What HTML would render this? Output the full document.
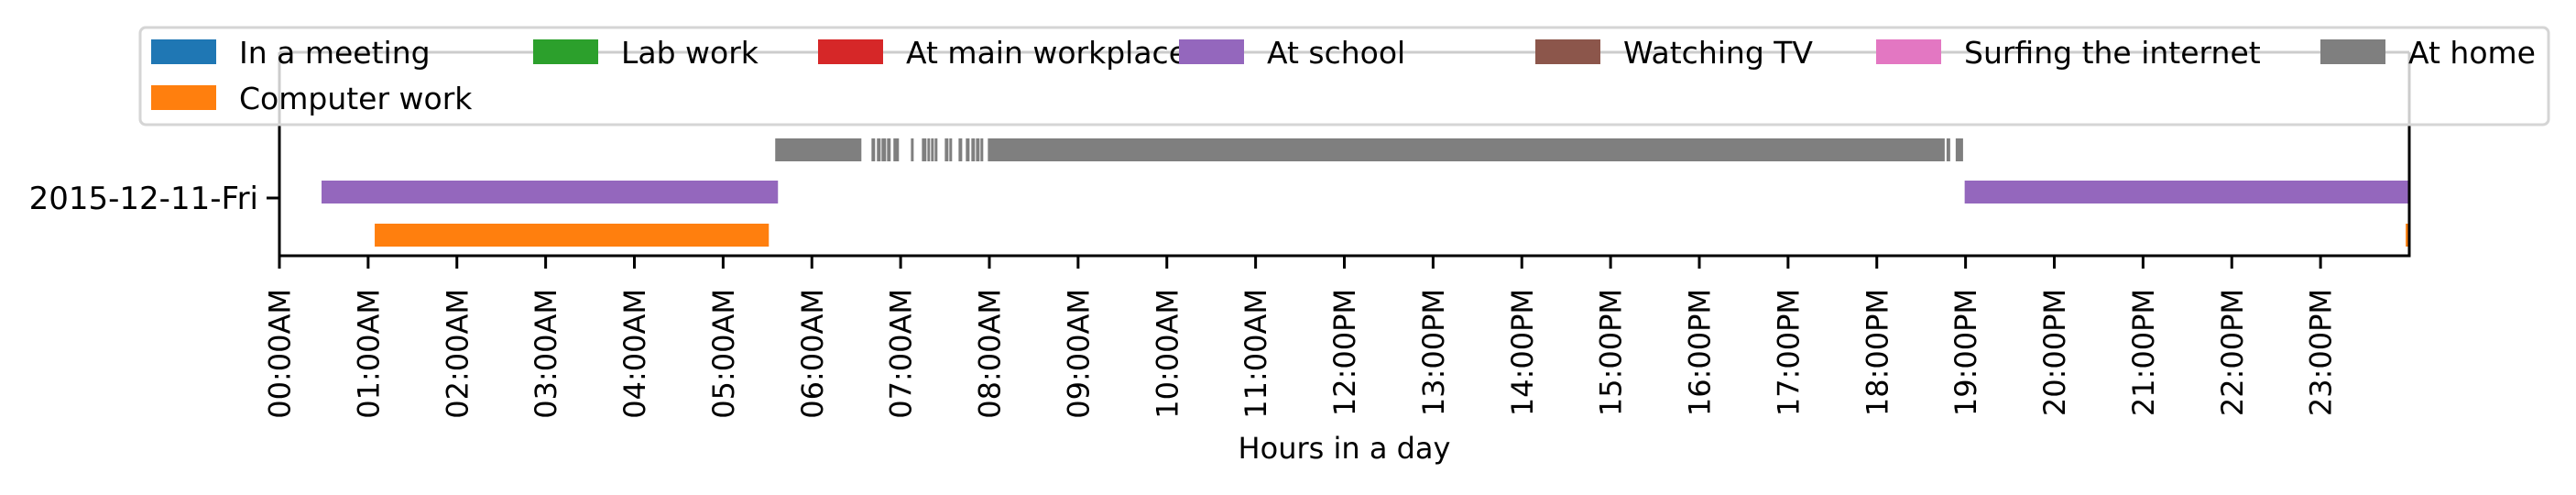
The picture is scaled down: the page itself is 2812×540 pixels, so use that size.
<!DOCTYPE html>
<html><head><meta charset="utf-8"><style>
html,body{margin:0;padding:0;background:#fff;}
svg{display:block;font-family:"DejaVu Sans","Liberation Sans",sans-serif;}
</style></head>
<body>
<svg id="chart" width="2812" height="540" viewBox="0 0 2812 540" xmlns="http://www.w3.org/2000/svg">
<g id="marks"></g>
<g id="axes"></g>
<g id="legend"></g>
</svg>
<script>
// ---- data (hours in the day) ----
const categories = ["At home", "At school", "Computer work"];
const homeStarts = [5.587,6.672,6.733,6.785,6.847,6.919,7.116,7.240,7.302,7.343,7.384,7.498,7.549,7.653,7.735,7.797,7.849,7.900,7.983,18.786,18.889];
const homeEnds   = [6.558,6.713,6.775,6.837,6.888,6.981,7.147,7.291,7.332,7.374,7.415,7.539,7.580,7.694,7.777,7.838,7.890,7.931,18.765,18.827,18.972];
const schoolStarts = [0.475, 18.99];
const schoolEnds   = [5.618, 24.0];
const computerStarts = [1.074, 23.96];
const computerEnds   = [5.515, 24.0];
const tickHours = [0,1,2,3,4,5,6,7,8,9,10,11,12,13,14,15,16,17,18,19,20,21,22,23];
const tickLabels = ["00:00AM","01:00AM","02:00AM","03:00AM","04:00AM","05:00AM","06:00AM","07:00AM","08:00AM","09:00AM","10:00AM","11:00AM","12:00PM","13:00PM","14:00PM","15:00PM","16:00PM","17:00PM","18:00PM","19:00PM","20:00PM","21:00PM","22:00PM","23:00PM"];
const legendLabels = ["In a meeting","Lab work","At main workplace","At school","Watching TV","Surfing the internet","At home","Computer work"];
const legendColors = ["#1f77b4","#2ca02c","#d62728","#9467bd","#8c564b","#e377c2","#7f7f7f","#ff7f0e"];
const dayLabel = "2015-12-11-Fri";

// ---- layout ----
const NS="http://www.w3.org/2000/svg";
const L=305,R=2630,T=57,B=279;
const x=h=>L+(h/24)*(R-L);
const rowY={"At home":151,"At school":197,"Computer work":244};
const barH=25;
function el(tag,attrs,parent){const e=document.createElementNS(NS,tag);for(const k in attrs)e.setAttribute(k,attrs[k]);parent.appendChild(e);return e;}
const marks=document.getElementById('marks'),axes=document.getElementById('axes'),legend=document.getElementById('legend');

function drawSeries(starts,ends,cat,color,name){
  for(let i=0;i<starts.length;i++){
    const r=el('rect',{x:x(starts[i]),y:rowY[cat],width:Math.max(2,x(ends[i])-x(starts[i])),height:barH,fill:color},marks);
    
    
  }
}
drawSeries(homeStarts,homeEnds,"At home","#7f7f7f","at-home");
drawSeries(schoolStarts,schoolEnds,"At school","#9467bd","at-school");
drawSeries(computerStarts,computerEnds,"Computer work","#ff7f0e","computer-work");

// spines
let s;
s=el('line',{x1:L,y1:T,x2:L,y2:B+1.5,stroke:'#000','stroke-width':3},axes);
s=el('line',{x1:R,y1:T,x2:R,y2:B+1.5,stroke:'#000','stroke-width':3},axes);
s=el('line',{x1:L,y1:T,x2:R,y2:T,stroke:'#000','stroke-width':3},axes);
s=el('line',{x1:L-1.5,y1:B,x2:R+1.5,y2:B,stroke:'#000','stroke-width':3},axes);

// x ticks
for(let i=0;i<tickHours.length;i++){
  const tx=x(tickHours[i]);
  const t=el('line',{x1:tx,y1:B,x2:tx,y2:B+14,stroke:'#000','stroke-width':3},axes);
  
  
  const lb=el('text',{x:0,y:0,transform:`translate(${tx+11.5},315) rotate(-90)`,'text-anchor':'end','font-size':32,fill:'#000'},axes);
  lb.textContent=tickLabels[i];
  
  
}
// y tick
s=el('line',{x1:L-14,y1:216,x2:L,y2:216,stroke:'#000','stroke-width':3},axes);
const yl=el('text',{x:282,y:228,'text-anchor':'end','font-size':34,fill:'#000'},axes);
yl.textContent=dayLabel;


const xt=el('text',{x:(L+R)/2,y:500,'text-anchor':'middle','font-size':32,fill:'#000'},axes);
xt.textContent="Hours in a day";



// legend
const lf=el('rect',{x:153,y:30,width:2629,height:106,rx:6,fill:'#fff','fill-opacity':0.8,stroke:'#d5d5d5','stroke-width':3},legend);


const colX=[165,582,893,1287,1676,2048,2533];
for(let i=0;i<legendLabels.length;i++){
  const px=i<7?colX[i]:colX[0];
  const py=i<7?43:93;
  const g=el('g',{},legend);
  
  
  const p=el('rect',{x:px,y:py,width:71,height:27,fill:legendColors[i]},g);
  
  
  const t=el('text',{x:px+96,y:py+26,'font-size':33,fill:'#000'},g);
  t.textContent=legendLabels[i];
  
  
}
</script>
</body></html>
